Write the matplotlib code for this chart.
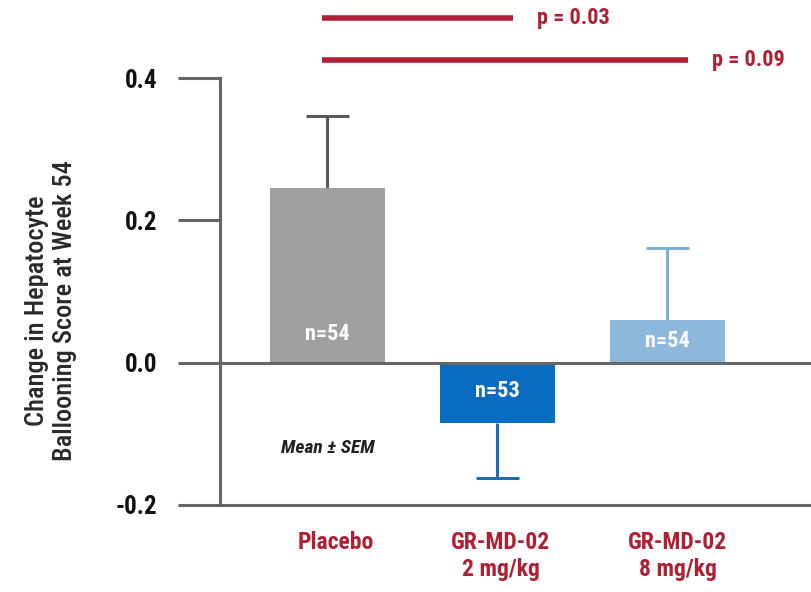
import matplotlib
matplotlib.use("Agg")
import matplotlib.pyplot as plt
from matplotlib import font_manager

# ---- data ----
categories = ["Placebo", "GR-MD-02\n2 mg/kg", "GR-MD-02\n8 mg/kg"]
means = [0.245, -0.085, 0.06]
sems = [0.102, 0.077, 0.101]
n_labels = ["n=54", "n=53", "n=54"]
n_label_y = [0.04, -0.04, 0.03]
yticks = [-0.2, 0.0, 0.2, 0.4]
ytick_labels = ["-0.2", "0.0", "0.2", "0.4"]
p_texts = ["p = 0.03", "p = 0.09"]
p_bar_ends = [1.09, 2.12]   # x (data) where each bracket line ends
p_bar_y = [0.484, 0.425]

bar_colors = ["#A0A0A0", "#0A6CC0", "#8DB8DC"]
err_colors = ["#5A5A5A", "#1F6DB3", "#7FAED6"]
red = "#B02035"
axis_gray = "#666666"

names = {f.name for f in font_manager.fontManager.ttflist}
fam = "DejaVu Sans"
for cand in ["Roboto Condensed", "Liberation Sans Narrow", "Open Sans Condensed", "Roboto", "Liberation Sans"]:
    if cand in names:
        fam = cand
        break
plt.rcParams["font.family"] = [fam, "DejaVu Sans"]

fig = plt.figure(figsize=(8.12, 5.92), dpi=100)
ax = fig.add_axes([220/812, (592-505)/592, 1-220/812, (505-78)/592])

x = list(range(len(categories)))
cap_half = 0.125
for i in x:
    ax.bar(i, means[i], width=0.68, color=bar_colors[i], zorder=2)
    sign = 1 if means[i] >= 0 else -1
    tip = means[i] + sign * sems[i]
    ax.vlines(i, means[i], tip, color=err_colors[i], lw=2.2, zorder=1)
    ax.hlines(tip, i - cap_half, i + cap_half, color=err_colors[i], lw=2.2, zorder=1)
    ax.text(i, n_label_y[i], n_labels[i], ha="center", va="center",
            color="white", fontsize=16, fontweight="bold", zorder=3)

ax.axhline(0, color=axis_gray, lw=2.2, zorder=4)

ax.set_xlim(-0.632, 2.85)
ax.set_ylim(-0.2, 0.4)
ax.set_yticks(yticks)
ax.set_yticklabels(ytick_labels, fontsize=18, fontweight="bold", color="#111111")
ax.tick_params(axis="y", length=30, width=2.2, color=axis_gray, pad=15)
ax.set_xticks([0.05, 1.02, 2.06])
ax.set_xticklabels(categories, fontsize=17, fontweight="bold", color=red,
                   linespacing=1.2)
ax.tick_params(axis="x", length=0, pad=19)

for s in ["top", "right"]:
    ax.spines[s].set_visible(False)
for s in ["left", "bottom"]:
    ax.spines[s].set_color(axis_gray)
    ax.spines[s].set_linewidth(2.2)

ax.set_ylabel("Change in Hepatocyte\nBallooning Score at Week 54", fontsize=19,
              fontweight="medium", color="#2a2a2a", linespacing=1.2)
ax.yaxis.set_label_coords((77 - 220) / 592, 0.455)

ax.text(0.0, -0.12, "Mean \u00b1 SEM", ha="center", va="center", fontsize=14,
        fontstyle="italic", fontweight="bold", color="#222222")

for end, yv, txt in zip(p_bar_ends, p_bar_y, p_texts):
    ax.plot([-0.03, end], [yv, yv], color=red, lw=4, solid_capstyle="butt",
            clip_on=False)
    ax.text(end + 0.14, yv, txt, ha="left", va="center", color=red,
            fontsize=16, fontweight="bold", clip_on=False)

fig.savefig("out.png", dpi=100)
